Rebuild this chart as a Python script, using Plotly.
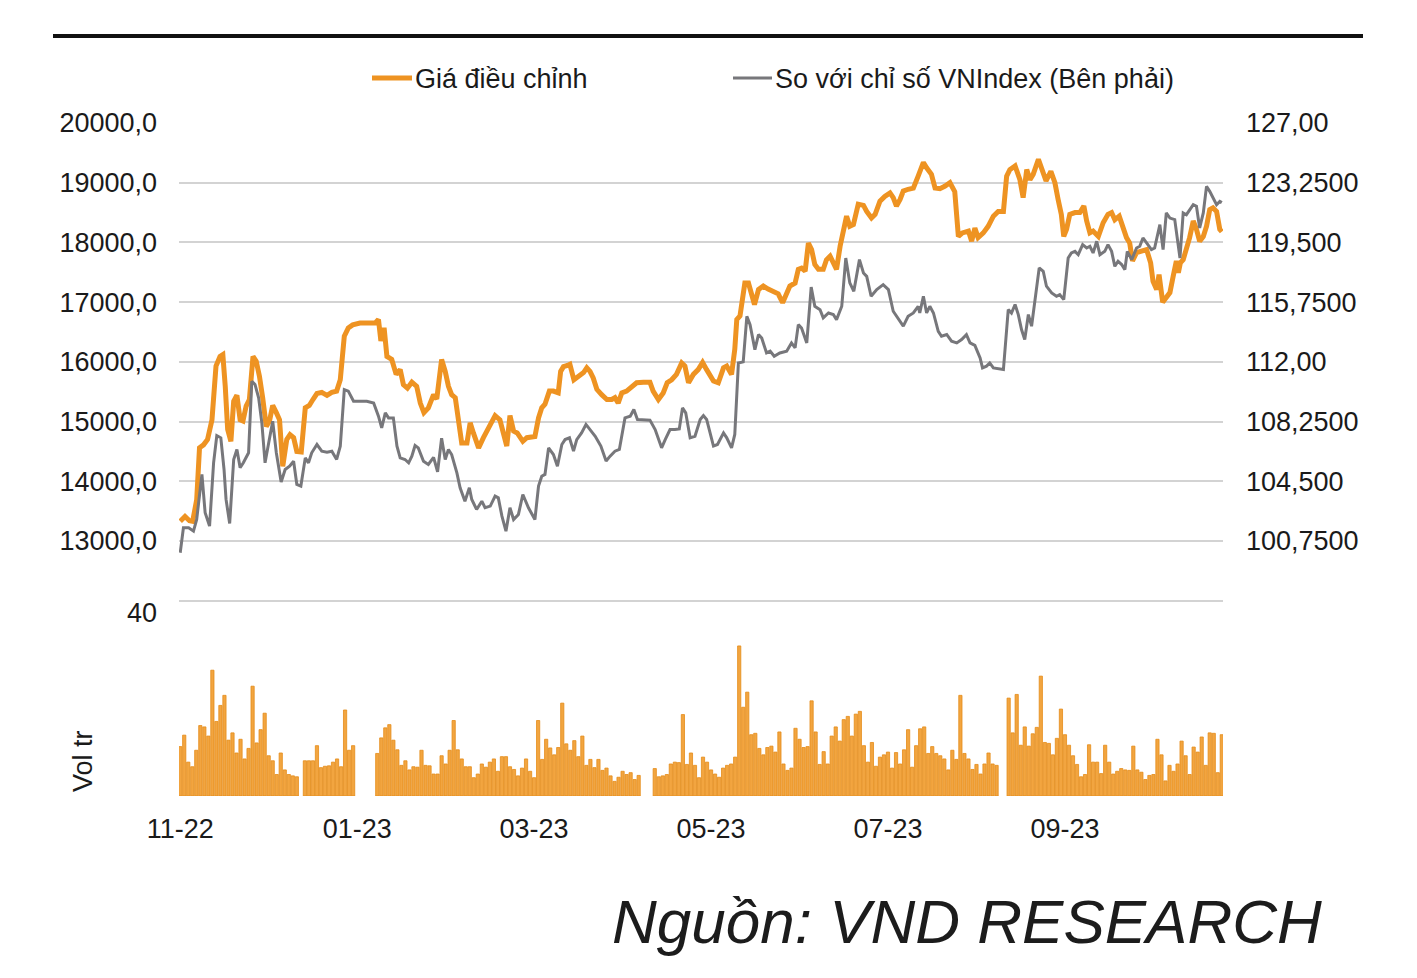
import plotly.graph_objects as go

# ---------------- data ----------------
tick_pos = [0, 44, 88, 132, 176, 220]
tick_labels = ["11-22", "01-23", "03-23", "05-23", "07-23", "09-23"]

# adjusted price (left axis): trading-day position, value
price_day = [0.0, 1.2, 2.3, 3.1, 4.1, 4.8, 5.8, 6.8, 7.9, 8.9, 9.9, 10.6, 11.2, 11.8, 12.6, 13.3, 14.1, 14.9, 15.6, 16.4,
             17.2, 18.1, 18.9, 19.7, 20.5, 21.4, 22.2, 23.0, 23.9, 24.7, 25.5, 26.5, 27.3, 28.2, 29.0, 30.1, 31.1, 32.1, 33.0, 34.0,
             35.2, 36.5, 37.7, 38.9, 39.8, 40.8, 41.8, 42.9, 44.7, 47.2, 48.5, 49.3, 49.9, 50.7, 51.4, 52.6, 53.7, 54.7, 55.5, 56.5,
             57.6, 58.8, 59.7, 60.6, 61.7, 63.0, 63.8, 65.0, 65.9, 66.7, 67.5, 68.4, 69.2, 70.0, 71.3, 72.1, 72.9, 74.2, 75.4, 76.6,
             78.3, 79.5, 80.4, 81.2, 82.0, 82.9, 83.8, 85.2, 86.2, 87.4, 88.2, 89.1, 89.9, 90.7, 91.8, 92.8, 94.0, 94.6, 95.3, 96.3,
             96.9, 97.9, 99.0, 100.3, 101.1, 101.9, 102.7, 103.6, 104.8, 106.1, 107.3, 108.1, 108.9, 109.8, 111.0, 112.3, 113.5, 115.2, 116.8, 117.6,
             118.9, 120.1, 121.1, 122.2, 123.4, 124.7, 125.5, 126.4, 127.6, 128.8, 129.9, 130.9, 132.6, 133.8, 135.1, 135.9, 137.1, 137.9, 138.4, 139.2,
             140.4, 141.3, 142.1, 142.8, 143.8, 145.0, 146.2, 147.5, 148.7, 149.8, 150.8, 151.6, 152.9, 153.7, 154.5, 155.4, 156.2, 157.0, 157.8, 158.7,
             159.9, 160.7, 161.6, 162.4, 163.2, 164.1, 164.9, 165.7, 166.5, 167.4, 168.6, 169.9, 170.7, 171.9, 172.8, 174.0, 175.2, 176.5, 177.3, 178.1,
             179.0, 179.8, 181.0, 182.3, 183.5, 184.8, 185.6, 186.8, 187.7, 188.9, 190.1, 191.4, 192.6, 193.5, 194.5, 196.0, 196.8, 197.6, 198.4, 199.7,
             200.9, 202.2, 203.4, 204.7, 205.5, 206.3, 207.6, 208.8, 209.6, 210.5, 211.3, 212.1, 213.4, 214.2, 215.3, 216.5, 217.5, 218.3, 219.1, 219.7,
             220.4, 221.2, 222.5, 223.7, 224.7, 225.4, 226.2, 227.0, 228.3, 229.5, 230.7, 231.6, 232.4, 233.5, 234.5, 235.3, 236.1, 236.8, 237.8, 239.0,
             240.3, 241.3, 241.9, 242.8, 243.4, 244.3, 245.2, 246.1, 246.9, 247.7, 248.2, 248.7, 249.4, 250.2, 251.0, 251.9, 252.7, 253.5, 254.4, 255.2,
             256.0, 256.8, 257.7, 258.5, 259.0]
price = [13330, 13410, 13340, 13330, 13690, 14560, 14610, 14700, 15030, 15930, 16090, 16120, 15590, 14870, 14670, 15340, 15440, 15030, 15010, 15260,
         15370, 16090, 16010, 15760, 15400, 14920, 15010, 15270, 15150, 15030, 14250, 14700, 14780, 14730, 14500, 14490, 15230, 15270, 15370, 15470,
         15490, 15440, 15490, 15510, 15700, 16430, 16570, 16620, 16650, 16650, 16650, 16710, 16350, 16570, 16090, 16040, 15790, 15870, 15620, 15560,
         15660, 15590, 15310, 15150, 15230, 15450, 15380, 16040, 15840, 15590, 15450, 15400, 14980, 14640, 14640, 14980, 14810, 14560, 14730, 14870,
         15100, 15030, 14750, 14590, 15100, 14840, 14810, 14670, 14730, 14750, 14750, 15060, 15230, 15290, 15510, 15510, 15480, 15840, 15920, 15940,
         15960, 15700, 15760, 15820, 15900, 15840, 15730, 15540, 15450, 15370, 15370, 15400, 15310, 15480, 15510, 15590, 15650, 15660, 15660, 15510,
         15370, 15480, 15650, 15700, 15790, 15980, 15930, 15650, 15790, 15870, 15990, 15870, 15680, 15650, 15900, 15930, 15790, 16210, 16710, 16770,
         17320, 17320, 17160, 16960, 17210, 17270, 17220, 17170, 17140, 16990, 17130, 17270, 17320, 17550, 17570, 17520, 17990, 17880, 17630, 17550,
         17550, 17710, 17770, 17660, 17550, 17940, 18220, 18440, 18270, 18300, 18640, 18620, 18520, 18410, 18470, 18690, 18770, 18830, 18750, 18610,
         18720, 18860, 18890, 18910, 19110, 19340, 19250, 19140, 18910, 18900, 18940, 19000, 18850, 18100, 18160, 18190, 18020, 18240, 18080, 18160,
         18270, 18440, 18520, 18520, 19110, 19220, 19280, 19050, 18750, 19220, 19050, 19140, 19390, 19250, 19030, 19190, 19000, 18720, 18470, 18100,
         18220, 18470, 18500, 18500, 18610, 18360, 18160, 18190, 18100, 18330, 18470, 18500, 18380, 18440, 18240, 18080, 17990, 17690, 17830, 17850,
         17880, 17660, 17350, 17210, 17460, 17000, 17100, 17160, 17430, 17690, 17490, 17660, 17710, 17880, 18080, 18360, 18220, 18020, 18100, 18270,
         18550, 18580, 18520, 18220, 18180]

# relative to VNIndex (right axis)
rel_day = [0.0, 0.8, 2.1, 3.3, 4.1, 5.4, 6.2, 7.3, 8.3, 9.1, 10.1, 10.9, 11.4, 12.3, 13.3, 14.1, 14.9, 15.7, 17.0, 17.8,
           18.6, 19.5, 20.3, 21.1, 22.0, 23.0, 23.9, 25.1, 26.1, 27.2, 28.2, 29.0, 30.0, 31.1, 31.9, 32.7, 34.0, 35.2, 36.5, 37.7,
           38.9, 39.8, 40.8, 41.8, 43.1, 44.7, 46.4, 48.1, 49.3, 50.1, 51.0, 51.8, 53.0, 53.9, 54.7, 55.9, 56.8, 57.6, 58.4, 59.2,
           60.5, 61.7, 63.0, 64.0, 65.0, 65.9, 66.7, 67.5, 68.8, 69.6, 70.8, 71.9, 72.5, 73.7, 75.0, 75.8, 77.1, 78.3, 79.1, 80.0,
           81.0, 82.0, 82.9, 84.1, 85.2, 86.6, 88.2, 89.1, 89.9, 90.7, 91.6, 92.8, 93.8, 94.9, 95.7, 96.8, 97.8, 98.6, 99.8, 100.9,
           101.9, 103.2, 104.6, 105.9, 106.9, 108.1, 109.2, 110.6, 111.9, 112.8, 113.7, 115.2, 116.8, 118.1, 119.7, 120.6, 121.8, 123.0, 124.1, 124.9,
           125.7, 126.8, 128.0, 129.3, 130.1, 130.9, 131.7, 132.6, 133.6, 135.1, 135.9, 137.1, 137.9, 138.8, 140.0, 140.9, 141.7, 142.5, 142.9, 143.8,
           144.6, 145.8, 146.7, 147.7, 149.1, 150.8, 152.0, 152.9, 153.7, 154.5, 155.8, 156.9, 157.8, 159.1, 159.9, 161.2, 162.4, 163.2, 164.5, 165.5,
           166.5, 167.5, 168.9, 169.9, 170.7, 171.8, 173.2, 174.8, 176.1, 177.3, 178.6, 179.8, 181.0, 182.3, 183.5, 183.9, 184.8, 185.6, 186.4, 187.3,
           188.5, 189.3, 190.6, 191.8, 193.1, 194.3, 195.5, 196.4, 197.6, 198.9, 199.5, 200.5, 201.3, 202.2, 204.7, 205.9, 206.7, 207.6, 208.4, 209.2,
           210.0, 210.9, 211.7, 212.5, 213.6, 214.6, 215.4, 216.7, 217.9, 218.7, 219.7, 220.8, 221.6, 222.5, 223.3, 224.4, 225.4, 226.2, 227.0, 227.9,
           228.7, 229.9, 230.7, 231.6, 232.4, 233.2, 234.1, 234.9, 235.5, 236.6, 237.8, 238.6, 239.4, 240.3, 241.5, 242.3, 243.6, 244.4, 245.2, 246.1,
           247.3, 248.6, 249.4, 250.2, 251.0, 251.9, 252.7, 253.5, 254.4, 255.2, 256.0, 256.8, 257.7, 258.5, 259.0]
rel_vnindex = [100.01, 101.58, 101.58, 101.37, 102.10, 104.93, 102.52, 101.69, 105.66, 107.37, 107.23, 105.24, 103.36, 101.85, 105.87, 106.50, 105.35, 105.66, 106.29, 110.78,
               110.58, 109.74, 108.17, 105.66, 106.91, 108.27, 106.29, 104.45, 105.24, 105.45, 105.76, 104.30, 104.20, 105.97, 105.66, 106.29, 106.81, 106.39, 106.33, 106.39,
               105.87, 106.70, 110.26, 110.16, 109.53, 109.53, 109.53, 109.42, 108.59, 107.86, 108.80, 108.48, 108.48, 106.70, 105.97, 105.87, 105.66, 106.08, 106.75, 106.60,
               105.76, 105.56, 106.00, 105.10, 107.20, 105.87, 106.50, 106.18, 105.03, 104.09, 103.25, 104.09, 103.36, 102.73, 103.25, 102.84, 102.94, 103.57, 103.46, 102.31,
               101.37, 102.84, 102.10, 102.42, 103.67, 102.84, 102.10, 104.20, 104.82, 104.93, 106.60, 106.18, 105.45, 106.81, 107.12, 107.23, 106.39, 107.12, 107.54, 108.07,
               107.75, 107.33, 106.71, 105.77, 106.08, 106.39, 106.50, 108.48, 108.59, 109.01, 108.38, 108.38, 108.34, 107.75, 106.60, 107.12, 107.75, 107.75, 107.79, 109.11,
               108.80, 107.23, 107.33, 108.38, 108.63, 108.38, 107.65, 106.71, 106.81, 107.54, 107.23, 106.60, 107.44, 111.93, 112.00, 114.86, 114.34, 113.19, 112.77, 113.71,
               113.50, 112.56, 112.67, 112.35, 112.56, 112.67, 113.19, 112.88, 114.34, 114.13, 113.19, 116.70, 115.49, 115.28, 114.76, 115.07, 114.97, 114.65, 115.49, 118.52,
               116.96, 116.43, 118.42, 117.58, 117.37, 116.12, 116.54, 116.85, 116.54, 115.18, 114.65, 114.24, 114.86, 115.07, 115.49, 115.07, 116.12, 115.07, 115.49, 115.07,
               113.92, 113.61, 113.72, 113.30, 113.19, 113.40, 113.71, 113.19, 113.04, 112.25, 111.62, 111.73, 111.93, 111.62, 111.52, 115.28, 115.07, 115.60, 114.97, 114.03,
               113.40, 114.97, 114.24, 115.91, 117.90, 117.69, 116.75, 116.33, 116.12, 116.22, 115.91, 118.52, 118.84, 118.94, 118.73, 119.36, 119.15, 119.26, 118.84, 119.57,
               118.73, 118.94, 119.36, 118.94, 118.00, 118.32, 118.11, 117.79, 118.94, 118.42, 119.15, 119.26, 119.78, 119.47, 119.05, 119.15, 120.62, 119.05, 121.35, 121.03,
               120.93, 118.52, 121.35, 121.24, 121.56, 121.87, 121.77, 120.41, 121.35, 123.02, 122.71, 122.29, 121.87, 122.08, 122.00]

# daily volume (million shares), None = no data
volume = [10.8, 13.3, 7.4, 6.4, 10.0, 15.4, 15.1, 13.1, 27.5, 16.3, 19.8, 22.0, 12.2, 13.8, 9.4, 12.4, 8.1, 10.4, 24.0, 11.6,
          14.5, 18.1, 8.8, 7.7, 4.7, 9.4, 5.7, 4.7, 4.4, 4.2,
          None,
          7.7, 7.7, 7.7, 11.0, 6.2, 6.5, 6.6, 7.4, 8.1, 6.4, 18.8, 10.0, 11.0,
          None, None, None, None, None,
          9.3, 12.7, 14.9, 15.6, 12.2, 10.1, 6.7, 7.7, 5.7, 6.4, 6.3, 10.0, 6.7, 6.6, 4.8, 4.8,
          8.8, 7.0, 10.0, 16.5, 10.1, 8.1, 6.4, 6.4, 4.0, 4.8, 7.0, 6.3, 7.4, 8.1, 5.4, 8.6, 8.6, 6.4, 5.8, 4.4,
          6.1, 8.1, 5.4, 4.0, 16.5, 8.0, 12.4, 10.5, 9.0, 10.6, 20.3, 11.4, 10.0, 12.1, 8.6, 13.1, 6.7, 8.0, 6.2, 8.0,
          5.6, 6.1, 4.4, 3.2, 4.1, 5.4, 4.7, 5.1, 3.6, 4.5,
          None, None, None,
          6.0, 4.2, 4.4, 4.7, 7.0, 7.4, 7.3, 17.8, 6.9, 9.4, 6.7, 4.0,
          8.5, 7.4, 5.7, 4.8, 4.1, 6.1, 6.7, 7.0, 8.5, 32.8, 19.4, 22.7, 13.4, 13.7, 10.4, 9.0, 10.6, 10.9, 9.6, 14.0,
          7.0, 5.6, 6.1, 14.8, 12.4, 10.6, 10.8, 20.8, 14.0, 6.9, 9.7, 7.0, 13.1, 15.1, 12.0, 16.7, 17.4, 13.1, 17.9, 18.5,
          11.0, 7.4, 11.7, 6.5, 8.5, 9.0, 9.6, 6.1, 9.5, 7.0, 10.1, 14.5, 6.3, 11.0, 14.7, 15.1, 9.3,
          10.8, 9.3, 8.8, 8.1, 5.7, 10.0, 8.0, 22.0, 9.3, 8.1, 5.8, 6.9, 4.8, 7.0, 9.4, 7.0, 6.7,
          None, None,
          21.4, 13.8, 22.2, 11.1, 15.1, 10.9, 13.6, 15.0, 26.2, 11.7, 11.5, 9.0, 12.6, 19.0, 13.4, 11.1, 8.8, 6.9, 4.2, 4.7,
          11.2, 7.4, 7.4, 4.9, 11.1, 7.4, 4.8, 5.4, 6.0, 5.7, 5.6, 10.9, 5.7, 5.2, 3.6, 4.5, 4.7, 12.4, 9.0, 3.3,
          6.7, 5.4, 7.0, 12.0, 8.8, 4.7, 10.7, 9.6, 12.9, 6.7, 13.8, 13.7, 5.1, 13.4]
vol_day = list(range(len(volume)))

left_ticks = [12000, 13000, 14000, 15000, 16000, 17000, 18000, 19000, 20000]
left_labels = ["", "13000,0", "14000,0", "15000,0", "16000,0", "17000,0", "18000,0", "19000,0", "20000,0"]
right_ticks = [97.0, 100.75, 104.5, 108.25, 112.0, 115.75, 119.5, 123.25, 127.0]
right_labels = ["", "100,7500", "104,500", "108,2500", "112,00", "115,7500", "119,500", "123,2500", "127,00"]

# ---------------- style ----------------
ORANGE = "#EE9322"
BAR = "#F2A540"
BAR_EDGE = "#E48C18"
GREY = "#77777B"
GRID = "#D3D3D3"
TXT = "#1A1A1A"
FONT = "Liberation Sans, Arial, sans-serif"
FS = 27

fig = go.Figure()
fig.add_trace(go.Scatter(x=price_day, y=price, mode="lines", name="Giá điều chỉnh",
                         line=dict(color=ORANGE, width=5), xaxis="x", yaxis="y", showlegend=False))
fig.add_trace(go.Scatter(x=rel_day, y=rel_vnindex, mode="lines", name="So với chỉ số VNIndex (Bên phải)",
                         line=dict(color=GREY, width=3), xaxis="x", yaxis="y2", showlegend=False))
fig.add_trace(go.Bar(x=vol_day, y=volume, marker=dict(color=BAR, line=dict(width=0.8, color=BAR_EDGE)),
                     xaxis="x2", yaxis="y3", showlegend=False, name="Vol tr"))

L, R, T, B = 179, 1223, 123, 796
W, H = 1417, 978
ph = B - T
pw = R - L


def px(xp):
    return (xp - L) / pw


def py(yp):
    return (B - yp) / ph


# price panel: 20000 at y=123 px, 59.7 px per 1000 -> 11950 sits at ~603.7 px
price_bottom = 603.7
vol_top = 613

fig.update_layout(
    width=W, height=H,
    margin=dict(l=L, r=W - R, t=T, b=H - B, pad=0),
    paper_bgcolor="white", plot_bgcolor="white",
    font=dict(family=FONT, size=FS, color=TXT),
    bargap=0.2,
    xaxis=dict(domain=[0, 1], range=[-0.3, 259.3], anchor="y", showticklabels=False,
               showgrid=False, zeroline=False, showline=False, ticks=""),
    xaxis2=dict(domain=[0, 1], range=[-0.3, 259.3], anchor="y3", tickvals=tick_pos, ticktext=tick_labels,
                showgrid=False, zeroline=False, showline=False, ticks="", ticklabelstandoff=14,
                tickfont=dict(size=FS, color=TXT)),
    yaxis=dict(domain=[py(price_bottom), 1], range=[11950, 20000], tickvals=left_ticks, ticktext=left_labels,
               showgrid=True, gridcolor=GRID, gridwidth=1.5, zeroline=False, showline=False, ticks="",
               ticklabelstandoff=21, tickfont=dict(size=FS, color=TXT)),
    yaxis2=dict(overlaying="y", side="right", anchor="x", range=[96.8125, 127], tickvals=right_ticks,
                ticktext=right_labels, showgrid=False, zeroline=False, showline=False, ticks="",
                ticklabelstandoff=22, tickfont=dict(size=FS, color=TXT)),
    yaxis3=dict(domain=[0, py(vol_top)], anchor="x2", range=[0, 40], tickvals=[40], ticktext=["40"],
                showgrid=False, zeroline=False, showline=False, ticks="", ticklabelstandoff=21,
                tickfont=dict(size=FS, color=TXT)),
)

shapes = [
    dict(type="line", xref="paper", yref="paper", x0=px(53), x1=px(1363), y0=py(36), y1=py(36),
         line=dict(color="#111111", width=4)),
    dict(type="line", xref="paper", yref="paper", x0=px(372), x1=px(412), y0=py(78), y1=py(78),
         line=dict(color=ORANGE, width=5)),
    dict(type="line", xref="paper", yref="paper", x0=px(733), x1=px(772), y0=py(78), y1=py(78),
         line=dict(color=GREY, width=3)),
]
annotations = [
    dict(text="Giá điều chỉnh", xref="paper", yref="paper", x=px(413), y=py(79), xanchor="left",
         yanchor="middle", showarrow=False, font=dict(size=FS, color=TXT)),
    dict(text="So với chỉ số VNIndex (Bên phải)", xref="paper", yref="paper", x=px(773), y=py(79),
         xanchor="left", yanchor="middle", showarrow=False, font=dict(size=FS, color=TXT)),
    dict(text="Vol tr", xref="paper", yref="paper", x=px(83), y=py(761), textangle=-90,
         xanchor="center", yanchor="middle", showarrow=False, font=dict(size=FS, color=TXT)),
    dict(text="<i>Nguồn: VND RESEARCH</i>", xref="paper", yref="paper", x=px(1324), y=py(921),
         xanchor="right", yanchor="middle", showarrow=False, font=dict(size=62, color="#1C1C1C")),
]
fig.update_layout(shapes=shapes, annotations=annotations)

fig.write_html("out.html")
